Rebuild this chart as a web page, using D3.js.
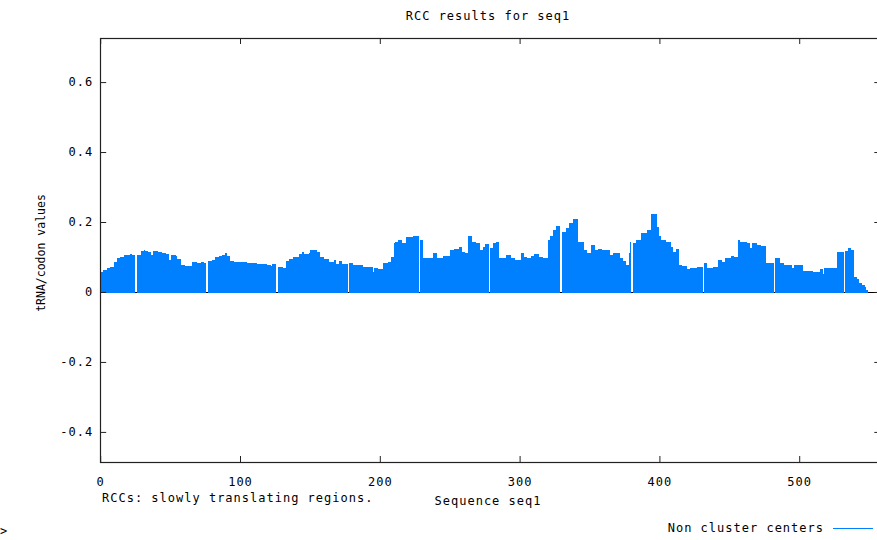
<!DOCTYPE html>
<html>
<head>
<meta charset="utf-8">
<script src="https://cdn.jsdelivr.net/npm/d3@7"></script>
<style>
  body { margin: 0; background: #fff; }
  text { font-family: "DejaVu Sans Mono", "Liberation Mono", monospace; fill: #000; }
</style>
</head>
<body>
<div id="svg-area"></div>
<script>
////////////////////////////
//////Chart data////////////
////////////////////////////

// tRNA/codon value for every codon position (null = cluster center, not in this series)
var rccValues = [
  0.058,0.058,0.064,0.064,0.064,0.068,0.068,0.072,0.072,0.072,
  0.086,0.086,0.097,0.097,0.101,0.101,0.101,0.106,0.106,0.106,
  0.106,0.108,0.108,0.105,0.105,null,0.106,0.106,0.106,0.118,
  0.118,0.121,0.116,0.116,0.113,0.113,0.105,0.105,0.118,0.118,
  0.118,0.114,0.114,0.114,0.112,0.112,0.112,0.109,0.109,0.091,
  0.091,0.106,0.106,0.106,0.103,0.095,0.095,0.095,0.077,0.077,
  0.077,0.075,0.075,0.075,0.073,0.073,0.085,0.085,0.085,0.084,
  0.084,0.084,0.086,0.086,0.084,0.084,null,0.088,0.088,0.088,
  0.091,0.091,0.099,0.099,0.099,0.102,0.102,0.106,0.106,0.110,
  0.110,0.104,0.104,0.089,0.089,0.089,0.087,0.087,0.085,0.085,
  0.085,0.085,0.087,0.087,0.087,0.084,0.084,0.083,0.083,0.083,
  0.083,0.083,0.080,0.080,0.080,0.080,0.079,0.079,0.079,0.078,
  0.078,0.078,0.073,0.080,0.080,0.080,null,0.072,0.072,0.072,
  0.072,0.068,0.068,0.088,0.088,0.094,0.094,0.094,0.100,0.100,
  0.100,0.100,0.109,0.109,0.113,0.113,0.108,0.108,0.108,0.111,
  0.120,0.120,0.120,0.120,0.120,0.115,0.115,0.101,0.101,0.101,
  0.094,0.094,0.094,0.094,0.087,0.087,0.087,0.091,0.091,0.081,
  0.081,0.088,0.088,0.080,0.080,0.080,0.080,null,0.082,0.082,
  0.082,0.076,0.076,0.076,0.076,0.076,0.076,0.076,0.072,0.072,
  0.072,0.072,0.072,0.070,0.070,0.058,0.068,0.068,0.068,0.066,
  0.066,0.066,0.084,0.084,0.084,0.084,0.087,0.087,0.100,0.100,
  0.139,0.144,0.144,0.149,0.149,0.149,0.139,0.139,0.139,0.158,
  0.158,0.158,0.158,0.158,0.161,0.161,0.161,0.161,null,0.150,
  0.150,0.096,0.096,0.096,0.096,0.096,0.096,0.096,0.110,0.110,
  0.110,0.096,0.096,0.096,0.096,0.103,0.103,0.103,0.103,0.103,
  0.120,0.120,0.120,0.122,0.122,0.122,0.122,0.130,0.130,0.115,
  0.115,0.112,0.112,0.161,0.161,0.161,0.144,0.144,0.144,0.139,
  0.139,0.139,0.120,0.120,0.128,0.136,0.136,0.136,null,0.125,
  0.125,0.141,0.141,0.144,0.144,0.096,0.096,0.096,0.096,0.096,
  0.106,0.106,0.106,0.106,0.096,0.096,0.096,0.091,0.091,0.091,
  0.091,0.110,0.110,0.100,0.100,0.096,0.096,0.096,0.103,0.103,
  0.109,0.109,0.109,0.109,0.100,0.100,0.100,0.096,0.096,0.096,
  0.149,0.149,0.160,0.160,0.177,0.177,0.189,0.189,0.189,null,
  0.172,0.172,0.172,0.182,0.182,0.196,0.196,0.196,0.210,0.210,
  0.210,0.210,0.144,0.144,0.144,0.144,0.120,0.120,0.112,0.112,
  0.112,0.134,0.134,0.134,0.120,0.120,0.122,0.122,0.122,0.120,
  0.120,0.120,0.120,0.120,0.120,0.106,0.106,0.110,0.110,0.110,
  0.110,0.110,0.096,0.096,0.089,0.089,0.077,0.077,0.110,0.144,
  null,0.139,0.139,0.149,0.149,0.149,0.149,0.170,0.170,0.170,
  0.170,0.177,0.177,0.177,0.224,0.224,0.224,0.224,0.187,0.187,
  0.160,0.149,0.149,0.149,0.149,0.142,0.142,0.142,0.130,0.130,
  0.115,0.115,0.123,0.123,0.077,0.077,0.074,0.074,0.074,0.074,
  0.065,0.065,0.068,0.068,0.068,0.068,0.068,0.070,0.070,0.070,
  0.070,null,0.082,0.082,0.068,0.068,0.068,0.068,0.072,0.072,
  0.072,0.072,0.091,0.091,0.091,0.087,0.087,0.096,0.096,0.096,
  0.096,0.104,0.104,0.100,0.100,0.100,0.149,0.149,0.144,0.144,
  0.144,0.144,0.144,0.139,0.139,0.125,0.141,0.141,0.141,0.141,
  0.134,0.134,0.134,0.131,0.131,0.131,0.082,0.082,0.082,0.082,
  0.082,0.082,null,0.096,0.096,0.096,0.082,0.082,0.082,0.077,
  0.077,0.077,0.077,0.077,0.077,0.068,0.077,0.077,0.077,0.077,
  0.077,0.077,0.077,0.061,0.061,0.061,0.061,0.061,0.061,0.061,
  0.058,0.058,0.058,0.058,0.058,0.065,0.065,0.051,0.068,0.068,
  0.068,0.068,0.068,0.068,0.068,0.068,0.068,0.115,0.115,0.115,
  0.115,0.115,null,0.118,0.118,0.125,0.125,0.120,0.120,0.044,
  0.044,0.036,0.036,0.027,0.027,0.020,0.020,0.013,0.006
];

var xTicks = [0, 100, 200, 300, 400, 500];
var xTickLabels = ["0", "100", "200", "300", "400", "500"];
var yTicks = [-0.4, -0.2, 0, 0.2, 0.4, 0.6];
var yTickLabels = ["-0.4", "-0.2", "0", "0.2", "0.4", "0.6"];

var titleText = "RCC results for seq1";
var xLabelText = "Sequence seq1";
var yLabelText = "tRNA/codon values";
var noteText = "RCCs: slowly translating regions.";
var legendText = "Non cluster centers";

////////////////////////////
//////Boiler Plate Code/////
////////////////////////////

var svgWidth = 877;
var svgHeight = 540;
var barColor = "#0080ff";

var svg = d3.select("#svg-area")
  .append("svg")
  .attr("width", svgWidth)
  .attr("height", svgHeight);

// plot box runs past the right edge of the picture, like the original
var plot = { left: 100.2, right: 880.3, top: 38, bottom: 462 };

var xScale = d3.scaleLinear()
  .domain([0, 558])
  .range([plot.left, plot.right]);

var yScale = d3.scaleLinear()
  .domain([-0.486, 0.726])
  .range([plot.bottom, plot.top]);

////////////////////////////
//////Bars//////////////////
////////////////////////////

// zero axis under the bars
svg.append("line")
  .attr("x1", plot.left).attr("x2", plot.right)
  .attr("y1", Math.round(yScale(0)) + 0.5).attr("y2", Math.round(yScale(0)) + 0.5)
  .attr("stroke", "#000")
  .attr("stroke-width", 1);

var barData = rccValues.map(function(v, i) { return { pos: i, value: v }; })
  .filter(function(d) { return d.value !== null; });

// snap edges to whole pixels so neighbouring bars join without seams
svg.append("g")
  .attr("shape-rendering", "crispEdges")
  .selectAll("rect")
  .data(barData)
  .enter()
  .append("rect")
  .attr("x", d => Math.round(xScale(d.pos)))
  .attr("width", d => Math.round(xScale(d.pos + 1)) - Math.round(xScale(d.pos)))
  .attr("y", d => Math.round(yScale(d.value)))
  .attr("height", d => Math.round(yScale(0)) - Math.round(yScale(d.value)) + 1)
  .attr("fill", barColor);

////////////////////////////
//////Axes//////////////////
////////////////////////////

// border
svg.append("rect")
  .attr("x", 100.5)
  .attr("y", plot.top + 0.5)
  .attr("width", plot.right - 100.5)
  .attr("height", plot.bottom - plot.top)
  .attr("fill", "none")
  .attr("stroke", "#222")
  .attr("stroke-width", 1.2);

var bottomAxis = d3.axisBottom(xScale)
  .tickValues(xTicks)
  .tickSize(-6)
  .tickPadding(15)
  .tickFormat((d, i) => xTickLabels[i]);

var topAxis = d3.axisTop(xScale)
  .tickValues(xTicks)
  .tickSize(-6)
  .tickFormat("");

var leftAxis = d3.axisLeft(yScale)
  .tickValues(yTicks)
  .tickSize(-6)
  .tickPadding(7)
  .tickFormat((d, i) => yTickLabels[i]);

var rightAxis = d3.axisRight(yScale)
  .tickValues(yTicks)
  .tickSize(-6)
  .tickFormat("");

function styleAxis(g) {
  g.select(".domain").remove();
  g.selectAll(".tick line").attr("stroke", "#222");
  g.selectAll(".tick text")
    .attr("font-family", "DejaVu Sans Mono")
    .attr("font-size", 12)
    .attr("letter-spacing", 1)
    .attr("fill", "#000");
}

svg.append("g")
  .attr("transform", `translate(0, ${plot.bottom})`)
  .call(bottomAxis)
  .call(styleAxis);

svg.append("g")
  .attr("transform", `translate(0, ${plot.top})`)
  .call(topAxis)
  .call(styleAxis);

svg.append("g")
  .attr("transform", `translate(${plot.left}, 0)`)
  .call(leftAxis)
  .call(styleAxis);

svg.append("g")
  .attr("transform", `translate(${plot.right}, 0)`)
  .call(rightAxis)
  .call(styleAxis);

////////////////////////////
//////Texts/////////////////
////////////////////////////

function addText(x, y, str, anchor, size, spacing) {
  return svg.append("text")
    .attr("x", x)
    .attr("y", y)
    .attr("text-anchor", anchor)
    .attr("font-size", size)
    .attr("letter-spacing", spacing)
    .text(str);
}

addText(488, 20, titleText, "middle", 12, 1);
addText(102, 502, noteText, "start", 12, 1);
addText(488, 505, xLabelText, "middle", 12, 1);
addText(824, 532, legendText, "end", 12, 1);
addText(0, 535, ">", "start", 12, 1);

svg.append("text")
  .attr("transform", "translate(45, 253) rotate(-90)")
  .attr("text-anchor", "middle")
  .attr("font-size", 11.5)
  .text(yLabelText);

// legend sample line
svg.append("line")
  .attr("x1", 833).attr("x2", 873)
  .attr("y1", 528.5).attr("y2", 528.5)
  .attr("stroke", barColor)
  .attr("stroke-width", 1);
</script>
</body>
</html>
